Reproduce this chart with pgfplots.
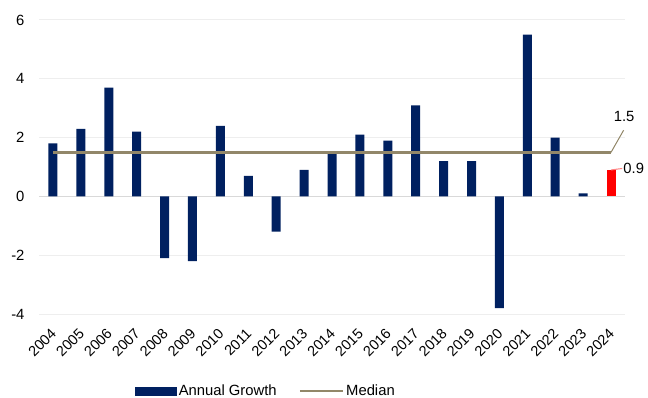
\documentclass[border=0pt]{standalone}
\usepackage{fontspec}
\setmainfont{Liberation Sans}
\usepackage{pgfplots}
\pgfplotsset{compat=1.18}
\definecolor{navy}{RGB}{0,32,96}
\definecolor{med}{RGB}{146,135,105}
\definecolor{gridc}{RGB}{238,238,238}
\definecolor{zeroc}{RGB}{217,217,217}
\begin{document}
\begin{tikzpicture}[font=\fontsize{14.8bp}{17bp}\selectfont]
\useasboundingbox (0,0) rectangle (648bp,398bp);
\begin{axis}[at={(39bp,84bp)}, anchor=south west, scale only axis,
  width=586bp, height=294bp,
  xmin=2003.5, xmax=2024.5, ymin=-4, ymax=6,
  xtick={2004,...,2024}, ytick={-4,-2,...,6},
  /pgf/number format/1000 sep={}, /pgf/number format/assume math mode=true,
  axis line style={draw=none}, major tick length=0pt,
  ymajorgrids, grid style={gridc, line width=1bp},
  extra y ticks={0}, extra y tick labels={},
  extra y tick style={grid style={zeroc, line width=1.6bp}},
  xticklabel style={xshift=-3bp, yshift=-12bp, rotate=45, anchor=north east, inner sep=1bp,
    font=\fontsize{14.5bp}{16bp}\selectfont},
  yticklabel style={xshift=-11bp},
  clip=false,
  legend style={at={(0.387,-0.262)}, anchor=center, draw=none, fill=none,
    legend columns=2, /tikz/every even column/.append style={column sep=20bp},
    nodes={inner sep=2bp}},
  legend cell align=left,
]
\addplot[ybar, bar width=9bp, bar shift=0pt, fill=navy, draw=none,
  legend image code/.code={\fill[navy] (0bp,-4.5bp) rectangle (42bp,4.5bp);}]
  coordinates {(2004,1.8)(2005,2.3)(2006,3.7)(2007,2.2)(2008,-2.1)(2009,-2.2)
  (2010,2.4)(2011,0.7)(2012,-1.2)(2013,0.9)(2014,1.5)(2015,2.1)(2016,1.9)
  (2017,3.1)(2018,1.2)(2019,1.2)(2020,-3.8)(2021,5.5)(2022,2.0)(2023,0.1)};
\addlegendentry{Annual Growth}
\addplot[ybar, bar width=9bp, bar shift=0pt, fill=red, draw=none, forget plot]
  coordinates {(2024,0.9)};
\addplot[med, line width=2.5bp, no marks,
  legend image code/.code={\draw[med, line width=2.5bp] (0bp,0bp) -- (43bp,0bp);}]
  coordinates {(2004,1.5)(2024,1.5)};
\addlegendentry{Median}
\draw[med, line width=1bp] (axis cs:2024,1.5) -- (axis cs:2024.45,2.25);
\node[inner sep=0pt] at (axis cs:2024.47,2.72) {1.5};
\draw[red!50, line width=1bp] (axis cs:2024,0.9) -- (axis cs:2024.4,0.95);
\node[anchor=west, inner sep=0.5bp] at (axis cs:2024.42,0.95) {0.9};
\end{axis}
\end{tikzpicture}
\end{document}
